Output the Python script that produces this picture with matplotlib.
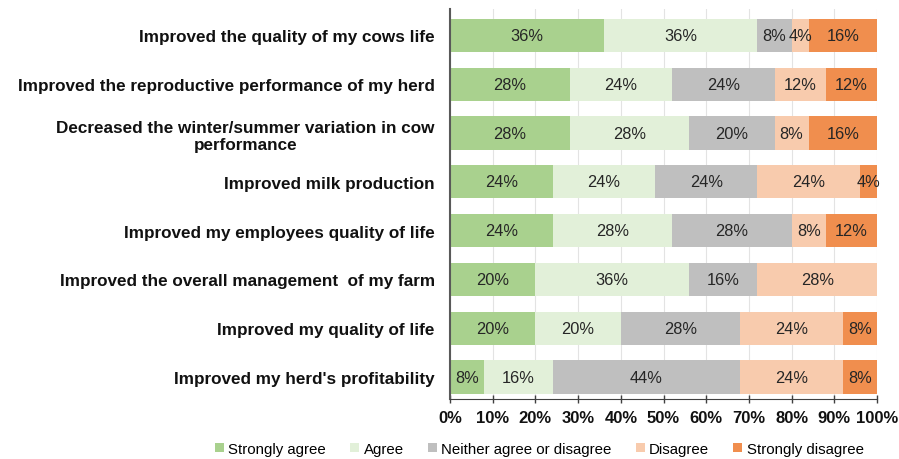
import matplotlib
matplotlib.use("Agg")
import matplotlib.pyplot as plt
import numpy as np

plt.rcParams['font.family'] = ['Liberation Sans', 'DejaVu Sans']

categories = [
    "Improved the quality of my cows life",
    "Improved the reproductive performance of my herd",
    "Decreased the winter/summer variation in cow\nperformance",
    "Improved milk production",
    "Improved my employees quality of life",
    "Improved the overall management  of my farm",
    "Improved my quality of life",
    "Improved my herd's profitability",
]
series_names = ["Strongly agree", "Agree", "Neither agree or disagree", "Disagree", "Strongly disagree"]
strongly_agree = [36, 28, 28, 24, 24, 20, 20, 8]
agree = [36, 24, 28, 24, 28, 36, 20, 16]
neither = [8, 24, 20, 24, 28, 16, 28, 44]
disagree = [4, 12, 8, 24, 8, 28, 24, 24]
strongly_disagree = [16, 12, 16, 4, 12, 0, 8, 8]
colors = ["#A9D18E", "#E2F0D9", "#BFBFBF", "#F8CBAD", "#F08E4E"]
xticks = [0, 10, 20, 30, 40, 50, 60, 70, 80, 90, 100]

fig = plt.figure(figsize=(8.99, 4.6), dpi=100)
ax = fig.add_axes([0.5006, 0.1304, 0.4749, 0.8478])

data = [strongly_agree, agree, neither, disagree, strongly_disagree]
y = np.arange(len(categories))
left = np.zeros(len(categories))
for name, vals, c in zip(series_names, data, colors):
    vals = np.array(vals, dtype=float)
    bars = ax.barh(y, vals, left=left, height=0.68, color=c, label=name, zorder=2)
    for b, v, l in zip(bars, vals, left):
        if v > 0:
            ax.text(l + v / 2, b.get_y() + b.get_height() / 2, f"{int(v)}%",
                    ha='center', va='center', fontsize=11.8, color='#262626', zorder=3)
    left += vals

ax.set_xlim(0, 100)
ax.set_ylim(7.45, -0.54)
ax.set_yticks(y)
ax.set_yticklabels(categories, fontsize=12.3, fontweight='bold', color='#111111')
for lab in ax.get_yticklabels():
    lab.set_multialignment('center')
ax.tick_params(axis='y', length=0, pad=11)
ax.set_xticks(xticks)
ax.set_xticklabels([f"{t}%" for t in xticks], fontsize=12, fontweight='bold', color='#111111')
ax.tick_params(axis='x', length=6, width=1, color='#404040', direction='inout', pad=5)
ax.grid(axis='x', color='#E3E3E3', linewidth=0.8, zorder=0)
for s in ['top', 'right']:
    ax.spines[s].set_visible(False)
ax.spines['left'].set_color('#595959')
ax.spines['left'].set_linewidth(1.5)
ax.spines['bottom'].set_color('#404040')

fig.legend(loc='center', bbox_to_anchor=(0.6, 0.022), ncol=5, frameon=False,
           fontsize=10.8, handlelength=0.6, handleheight=0.6, handletextpad=0.3,
           columnspacing=1.6)

fig.savefig("out.png", dpi=100)
